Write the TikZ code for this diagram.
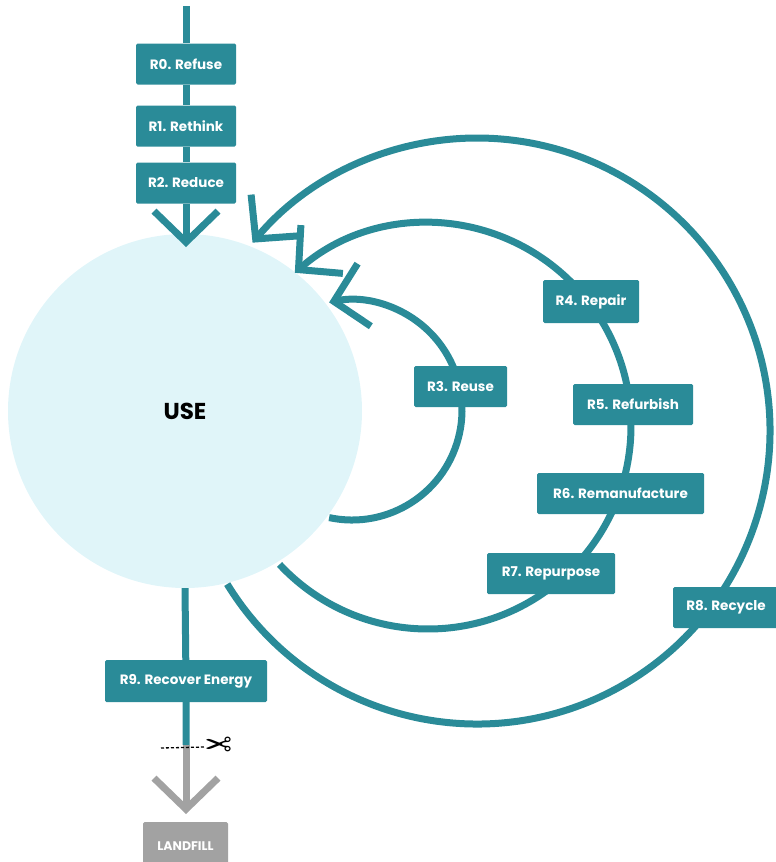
\documentclass[tikz,border=0pt]{standalone}
\usepackage{fontspec}
\setmainfont{Poppins}
\newfontfamily\symfont{DejaVu Sans}
\usetikzlibrary{arrows.meta}
\definecolor{tealc}{HTML}{2A8B98}
\definecolor{usefill}{HTML}{E0F5F9}
\definecolor{grayc}{HTML}{A2A2A2}
\pgfdeclarelayer{circ}
\pgfdeclarelayer{lines}
\pgfsetlayers{circ,lines,main}
\begin{document}
\begin{tikzpicture}[x=1pt,y=1pt,
  rbox/.style={fill=tealc, text=white, font=\bfseries\fontsize{13.5}{15}\selectfont,
    inner sep=0pt, minimum height=41pt, rounded corners=1.5pt},
  flow/.style={draw=tealc, line width=7pt},
  grayflow/.style={draw=grayc, line width=7pt},
  chev/.style={-{Straight Barb[length=31pt,width=64pt]}}]
\useasboundingbox (0,0) rectangle (776,-862);

\begin{pgfonlayer}{circ}
\node[circle, fill=usefill, minimum size=354pt, inner sep=0pt,
  font=\bfseries\fontsize{23}{27}\selectfont] (use) at (185,-411) {USE};
\end{pgfonlayer}

% boxes
\node[rbox, minimum width=100pt] (r0) at (186,-64) {R0. Refuse};
\node[rbox, minimum width=100pt] (r1) at (186,-126) {R1. Rethink};
\node[rbox, minimum width=100pt] (r2) at (186,-183) {R2. Reduce};
\node[rbox, minimum width=93pt] (r3) at (460.5,-386.5) {R3. Reuse};
\node[rbox, minimum width=96pt, minimum height=43pt] (r4) at (591,-301.5) {R4. Repair};
\node[rbox, minimum width=120pt] (r5) at (633,-404.5) {R5. Refurbish};
\node[rbox, minimum width=167pt] (r6) at (620.5,-493.5) {R6. Remanufacture};
\node[rbox, minimum width=128pt] (r7) at (551,-573.5) {R7. Repurpose};
\node[rbox, minimum width=106pt] (r8) at (726,-607.5) {R8. Recycle};
\node[rbox, minimum width=162pt, minimum height=42pt] (r9) at (186,-681) {R9. Recover Energy};
\node[fill=grayc, text=white, font=\bfseries\fontsize{12.5}{14}\selectfont,
  minimum width=85pt, minimum height=48pt, inner sep=0pt, rounded corners=1.5pt]
  (lf) at (185.5,-846) {LANDFILL};

% coordinates
\coordinate (top) at (186,-6);
\coordinate (in) at (186,-247);
\coordinate (ic) at (352,-410);
\coordinate (mc) at (428,-426);
\coordinate (oc) at (477,-431);
\coordinate (cut) at (186,-745);
\coordinate (lfin) at (186,-814);
\coordinate (dl) at (161,-748);

\begin{pgfonlayer}{lines}
\draw[flow, chev] (top) -- (r0) -- (r1) -- (r2) -- (in);
\draw[flow, chev] (ic) ++(258:110) arc[start angle=258, end angle=462, radius=110];
\draw[flow, chev] (mc) ++(223:203) arc[start angle=223, end angle=491, radius=203];
\draw[flow, chev] (oc) ++(211.5:293) arc[start angle=211.5, end angle=500, radius=293];
\draw[flow] (use.south) -- (r9) -- (cut);
\draw[grayflow, chev] (cut) -- (lfin);
\end{pgfonlayer}

\node[font=\symfont\fontsize{33}{33}\selectfont, inner sep=0pt] (sc) at (219,-747) {\reflectbox{✂}};
\draw[line width=1.3pt, dash pattern=on 3pt off 2pt] (dl) -- (sc.west);
\end{tikzpicture}
\end{document}
